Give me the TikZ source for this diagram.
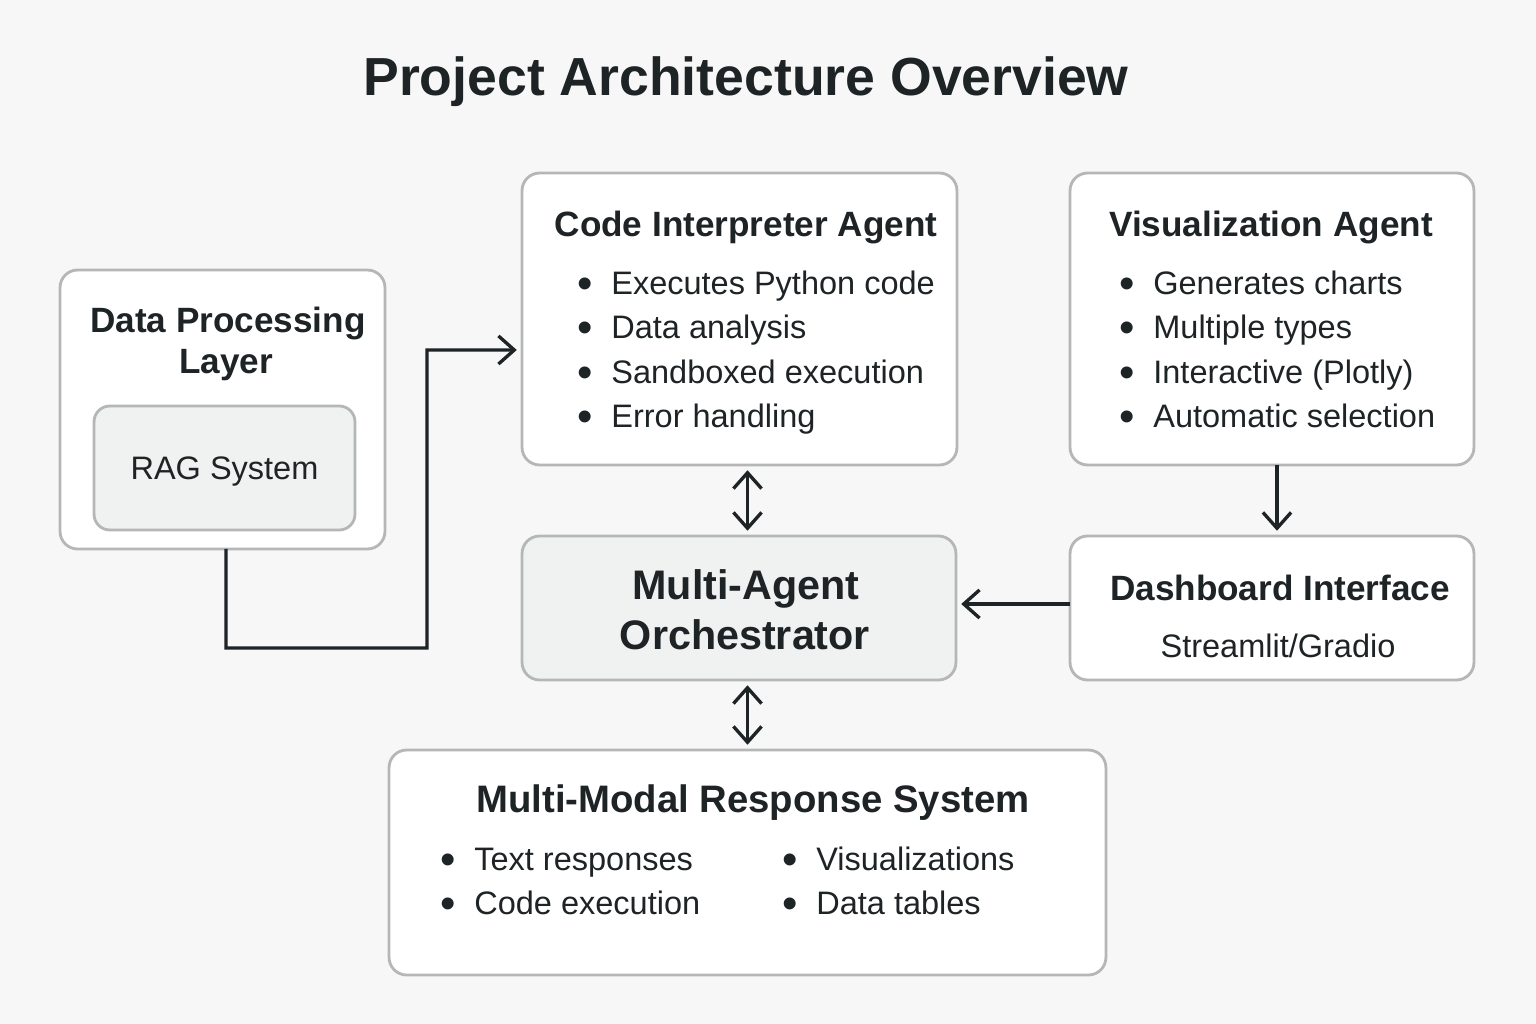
\documentclass[tikz,border=0pt]{standalone}
\usepackage{fontspec}
\setmainfont{Liberation Sans}
\usepackage{tikz}
\usetikzlibrary{positioning}
\usetikzlibrary{arrows.meta}
\usepackage{xcolor}

\definecolor{ink}{HTML}{1E2326}
\definecolor{edge}{HTML}{B4B6B7}
\definecolor{paper}{HTML}{F7F7F7}
\definecolor{soft}{HTML}{F0F1F1}

\tikzset{
    panel/.style={draw=edge, line width=1.6pt, rounded corners=10pt, fill=white, outer sep=0pt},
    softpanel/.style={panel, fill=soft},
    title/.style={text=ink, font=\fontsize{30.5}{36}\selectfont\bfseries, text height=21.8pt, text depth=0pt},
    head/.style={text=ink, font=\fontsize{20}{24}\selectfont\bfseries, text height=14.3pt, text depth=0pt},
    bighead/.style={text=ink, font=\fontsize{21.8}{26}\selectfont\bfseries, text height=15.6pt, text depth=0pt},
    big/.style={text=ink, font=\fontsize{23.5}{28}\selectfont\bfseries, text height=16.8pt, text depth=0pt},
    body/.style={text=ink, font=\fontsize{18.5}{22}\selectfont, text height=13.25pt, text depth=0pt},
    dot/.style={text=ink, font=\fontsize{25}{30}\selectfont, text height=18pt, text depth=0pt, inner sep=0pt},
    item/.style={body, anchor=west, inner sep=0pt, label={[dot, label distance=10.4pt]left:•}},
    flow/.style={draw=ink, line width=1.9pt, shorten >=3pt, -{Straight Barb[length=9pt, width=16pt]}},
    twoway/.style={draw=ink, line width=1.9pt, shorten >=3pt, shorten <=3pt,
        {Straight Barb[length=9pt, width=16pt]}-{Straight Barb[length=9pt, width=16pt]}}
}

\begin{document}
\begin{tikzpicture}[x=0.02cm, y=-0.02cm]
    % canvas
    \fill[paper] (0,0) rectangle (1536,1024);
    \useasboundingbox (0,0) rectangle (1536,1024);

    % title
    \node[title] (title) at (746, 76) {Project Architecture Overview};

    % Data processing layer
    \node[panel, minimum width=6.5cm, minimum height=5.58cm] (dpl) at (222.5, 409.5) {};
    \node[head] (dpl-t1) at (228, 320) {Data Processing};
    \node[head] (dpl-t2) at (226, 361) {Layer};
    \node[softpanel, body, rounded corners=9pt, minimum width=5.22cm, minimum height=2.48cm] (rag) at (224.5, 468) {RAG System};

    % Code interpreter
    \node[panel, minimum width=8.7cm, minimum height=5.84cm] (cia) at (739.5, 319) {};
    \node[head] (cia-t) at (746, 224) {Code Interpreter Agent};
    \node[item] (cia-1) at (611, 283) {Executes Python code};
    \node[item] (cia-2) at (611, 327) {Data analysis};
    \node[item] (cia-3) at (611, 372) {Sandboxed execution};
    \node[item] (cia-4) at (611, 416) {Error handling};

    % Visualization
    \node[panel, minimum width=8.08cm, minimum height=5.84cm] (viz) at (1272, 319) {};
    \node[head] (viz-t) at (1271, 224) {Visualization Agent};
    \node[item] (viz-1) at (1153, 283) {Generates charts};
    \node[item] (viz-2) at (1153, 327) {Multiple types};
    \node[item] (viz-3) at (1153, 372) {Interactive (Plotly)};
    \node[item] (viz-4) at (1153, 416) {Automatic selection};

    % Orchestrator
    \node[softpanel, minimum width=8.68cm, minimum height=2.88cm] (orch) at (739, 608) {};
    \node[big] (orch-t1) at (746, 585) {Multi-Agent};
    \node[big] (orch-t2) at (745, 635) {Orchestrator};

    % Dashboard
    \node[panel, minimum width=8.08cm, minimum height=2.88cm] (dash) at (1272, 608) {};
    \node[head] (dash-t) at (1280, 588) {Dashboard Interface};
    \node[body] (dash-s) at (1278, 646) {Streamlit/Gradio};

    % Response system
    \node[panel, minimum width=14.34cm, minimum height=4.5cm] (resp) at (747.5, 862.5) {};
    \node[bighead] (resp-t) at (753, 799) {Multi-Modal Response System};
    \node[item] (resp-1) at (474, 859) {Text responses};
    \node[item] (resp-2) at (474, 903) {Code execution};
    \node[item] (resp-3) at (816, 859) {Visualizations};
    \node[item] (resp-4) at (816, 903) {Data tables};

    % Connections
    \coordinate (cia-in) at ([yshift=-0.62cm]cia.west);
    \draw[flow] ([xshift=0.07cm]dpl.south) -- ++(0,99) -| (427,350) -- (cia-in);
    \draw[twoway] (cia.south -| resp.north) -- (orch.north -| resp.north);
    \draw[flow] ([xshift=0.1cm]viz.south) -- ([xshift=0.1cm]dash.north);
    \draw[flow] ([yshift=0.08cm]dash.west) -- ([yshift=0.08cm]orch.east);
    \draw[twoway] (orch.south -| resp.north) -- (resp.north);
\end{tikzpicture}
\end{document}
